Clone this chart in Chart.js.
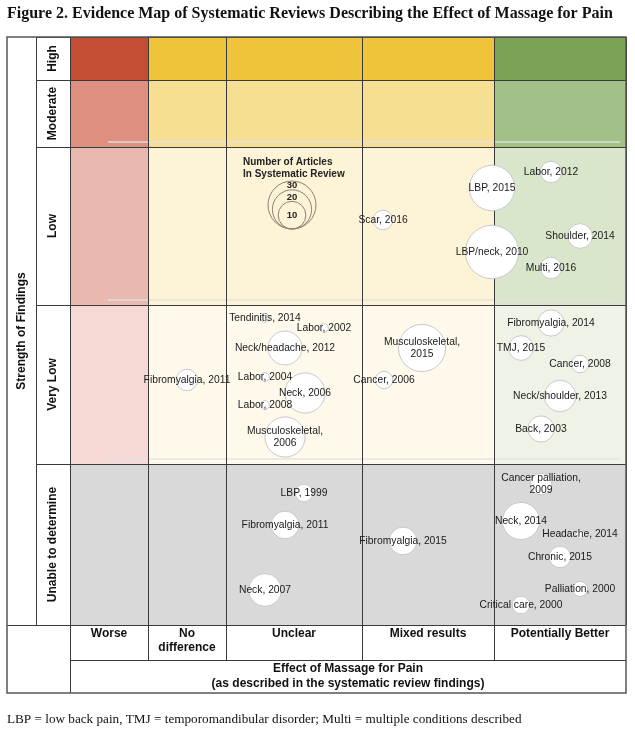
<!DOCTYPE html>
<html>
<head>
<meta charset="utf-8">
<title>Evidence Map of Systematic Reviews - Massage for Pain</title>
<script src="https://cdn.jsdelivr.net/npm/chart.js@4.4.1/dist/chart.umd.min.js"></script>
<style>
    html, body { margin: 0; padding: 0; background: #ffffff; }
    #map { display: block; }
</style>
</head>
<body>
<canvas id="map" width="635" height="740"></canvas>
<script>
// Columns: effect of massage, rows: strength of findings
const columns = ['Worse', 'No\ndifference', 'Unclear', 'Mixed results', 'Potentially Better'];
const columnEdges = [0, 78, 156, 292, 424, 556];
const strengths = ['High', 'Moderate', 'Low', 'Very Low', 'Unable to determine'];
const strengthEdges = [0, 43, 110, 268, 427, 588];

// One entry per systematic review
const reviewLabels = [
    'LBP, 2015', 'LBP/neck, 2010', 'Labor, 2012', 'Scar, 2016', 'Shoulder, 2014', 'Multi, 2016',
    'Tendinitis, 2014', 'Labor, 2002', 'Neck/headache, 2012', 'Labor, 2004', 'Neck, 2006', 'Labor, 2008',
    'Musculoskeletal,\n2006', 'Fibromyalgia, 2011', 'Musculoskeletal,\n2015', 'Cancer, 2006',
    'Fibromyalgia, 2014', 'TMJ, 2015', 'Cancer, 2008', 'Neck/shoulder, 2013', 'Back, 2003',
    'LBP, 1999', 'Fibromyalgia, 2011', 'Neck, 2007', 'Fibromyalgia, 2015', 'Cancer palliation,\n2009',
    'Neck, 2014', 'Headache, 2014', 'Chronic, 2015', 'Palliation, 2000', 'Critical care, 2000'
];
const reviewX = [
    422, 422, 481, 313, 510, 481,
    195, 254, 215, 195, 235, 195,
    215, 117, 352, 314,
    481, 451, 510, 490, 471,
    234, 215, 195, 333, 471,
    451, 510, 490, 510, 451
];
const reviewY = [
    151, 215, 135, 183, 199, 231,
    281, 291, 311, 340, 356, 368,
    400, 343, 311, 343,
    286, 311, 327, 359, 392,
    456, 488, 553, 504, 447,
    484, 497, 520, 552, 568
];
const reviewArticles = [
    27, 37, 6, 5, 8, 6,
    1, 1, 15, 1, 21, 1,
    21, 6, 29, 4,
    9, 8, 4, 13, 9,
    4, 10, 14, 10, 6,
    18, 1, 6, 3, 4
];
const legendArticles = [30, 20, 10];

// Cell fills by row (strength) and column (effect)
const cellColors = [
    ['#C24E34', '#EFC43B', '#EFC43B', '#EFC43B', '#7AA355'],
    ['#DE8F7F', '#F6DF93', '#F6DF93', '#F6DF93', '#A2C186'],
    ['#E9B8AF', '#FDF3D6', '#FDF3D6', '#FDF3D6', '#D9E6CC'],
    ['#F6D9D4', '#FEF9EA', '#FEF9EA', '#FEF9EA', '#EEF3E6'],
    ['#D9D9D9', '#D9D9D9', '#D9D9D9', '#D9D9D9', '#D9D9D9']
];

const SANS = '"Liberation Sans", Arial, sans-serif';
const SERIF = '"Liberation Serif", "Times New Roman", serif';

// bubble area proportional to number of articles
function radiusFor(n) {
    return 4.38 * Math.sqrt(n);
}

const points = reviewLabels.map((label, i) => ({
    x: reviewX[i],
    y: reviewY[i],
    r: radiusFor(reviewArticles[i]),
    label: label
}));

function drawLines(ctx, text, x, y, lineHeight) {
    const lines = text.split('\n');
    const start = y - (lines.length - 1) * lineHeight / 2;
    lines.forEach((line, i) => ctx.fillText(line, x, start + i * lineHeight));
}

// Background cells, grid and frame
const gridPlugin = {
    id: 'evidenceGrid',
    beforeDatasetsDraw(chart) {
        const { ctx, chartArea, scales } = chart;
        const xs = columnEdges.map(v => scales.x.getPixelForValue(v));
        const ys = strengthEdges.map(v => scales.y.getPixelForValue(v));
        ctx.save();

        for (let r = 0; r < strengths.length; r++) {
            for (let c = 0; c < columns.length; c++) {
                ctx.fillStyle = cellColors[r][c];
                ctx.fillRect(xs[c], ys[r], xs[c + 1] - xs[c], ys[r + 1] - ys[r]);
            }
        }

        // faint scan lines near the row bottoms
        ctx.strokeStyle = 'rgba(225, 225, 225, 0.9)';
        ctx.lineWidth = 1.5;
        [1, 2, 3].forEach(r => {
            const y = ys[r + 1] - 5;
            ctx.beginPath();
            ctx.moveTo(108, y);
            ctx.lineTo(620, y);
            ctx.stroke();
        });

        ctx.strokeStyle = '#3a3a3a';
        ctx.lineWidth = 1;
        xs.forEach(x => {
            ctx.beginPath();
            ctx.moveTo(Math.round(x) + 0.5, chartArea.top);
            ctx.lineTo(Math.round(x) + 0.5, chartArea.bottom);
            ctx.stroke();
        });
        ys.forEach(y => {
            ctx.beginPath();
            ctx.moveTo(36, Math.round(y) + 0.5);
            ctx.lineTo(chartArea.right, Math.round(y) + 0.5);
            ctx.stroke();
        });
        ctx.restore();
    },
    afterDraw(chart) {
        const { ctx, chartArea, scales } = chart;
        const xs = columnEdges.map(v => scales.x.getPixelForValue(v));
        const ys = strengthEdges.map(v => scales.y.getPixelForValue(v));
        const left = 7, divider = 36;
        const rowBottom = chartArea.bottom + 35;
        const tableBottom = chartArea.bottom + 68;
        ctx.save();

        // frame lines outside the plot
        ctx.strokeStyle = '#3a3a3a';
        ctx.lineWidth = 1;
        const line = (x1, y1, x2, y2) => {
            ctx.beginPath();
            ctx.moveTo(x1, y1);
            ctx.lineTo(x2, y2);
            ctx.stroke();
        };
        line(divider + 0.5, chartArea.top, divider + 0.5, chartArea.bottom);
        line(left, Math.round(chartArea.bottom) + 0.5, chartArea.right, Math.round(chartArea.bottom) + 0.5);
        line(chartArea.left, rowBottom + 0.5, chartArea.right, rowBottom + 0.5);
        line(Math.round(chartArea.left) + 0.5, chartArea.bottom, Math.round(chartArea.left) + 0.5, tableBottom);
        xs.slice(1, -1).forEach(x => line(Math.round(x) + 0.5, chartArea.bottom, Math.round(x) + 0.5, rowBottom));

        ctx.strokeStyle = '#555555';
        ctx.lineWidth = 1.5;
        ctx.strokeRect(left, chartArea.top, chartArea.right - left, tableBottom - chartArea.top);

        // row labels
        ctx.fillStyle = '#111111';
        ctx.font = 'bold 12px ' + SANS;
        ctx.textAlign = 'center';
        ctx.textBaseline = 'middle';
        strengths.forEach((s, r) => {
            ctx.save();
            ctx.translate(53, (ys[r] + ys[r + 1]) / 2);
            ctx.rotate(-Math.PI / 2);
            ctx.fillText(s, 0, 0);
            ctx.restore();
        });
        ctx.save();
        ctx.translate(21.5, (chartArea.top + chartArea.bottom) / 2);
        ctx.rotate(-Math.PI / 2);
        ctx.fillText('Strength of Findings', 0, 0);
        ctx.restore();

        // column labels
        columns.forEach((c, i) => {
            const lines = c.split('\n');
            lines.forEach((l, k) => ctx.fillText(l, (xs[i] + xs[i + 1]) / 2, chartArea.bottom + 9 + k * 14));
        });
        const mid = (chartArea.left + chartArea.right) / 2;
        ctx.fillText('Effect of Massage for Pain', mid, rowBottom + 9);
        ctx.fillText('(as described in the systematic review findings)', mid, rowBottom + 24);

        // title and footnote
        ctx.textAlign = 'left';
        ctx.font = 'bold 16px ' + SERIF;
        ctx.fillText('Figure 2. Evidence Map of Systematic Reviews Describing the Effect of Massage for Pain', 7, 14);
        ctx.font = '13.2px ' + SERIF;
        ctx.fillText('LBP = low back pain, TMJ = temporomandibular disorder; Multi = multiple conditions described', 7, 720);
        ctx.restore();
    }
};

// Review names on the bubbles + size legend
const labelPlugin = {
    id: 'reviewLabels',
    afterDatasetsDraw(chart, args, opts) {
        const { ctx, scales } = chart;
        const meta = chart.getDatasetMeta(0);
        ctx.save();
        ctx.fillStyle = '#1a1a1a';
        ctx.font = '10.3px ' + SANS;
        ctx.textAlign = 'center';
        ctx.textBaseline = 'middle';
        meta.data.forEach((el, i) => {
            drawLines(ctx, points[i].label, el.x, el.y, 11.5);
        });

        // size legend: nested circles sharing a bottom point
        const cx = scales.x.getPixelForValue(opts.anchor.x);
        const bottom = scales.y.getPixelForValue(opts.anchor.y);
        ctx.strokeStyle = '#8a8273';
        ctx.lineWidth = 1;
        legendArticles.forEach(n => {
            const r = radiusFor(n);
            ctx.beginPath();
            ctx.arc(cx, bottom - r, r, 0, Math.PI * 2);
            ctx.stroke();
        });
        ctx.fillStyle = '#222222';
        ctx.font = 'bold 9.5px ' + SANS;
        const shift = [0.8, 0.62, 0];
        legendArticles.forEach((n, i) => {
            const r = radiusFor(n);
            ctx.fillText(String(n), cx, bottom - r - r * shift[i]);
        });
        ctx.textAlign = 'left';
        ctx.font = 'bold 10px ' + SANS;
        ctx.fillText('Number of Articles', cx - 49, bottom - 67);
        ctx.fillText('In Systematic Review', cx - 49, bottom - 55);
        ctx.restore();
    }
};

new Chart(document.getElementById('map'), {
    type: 'bubble',
    data: {
        datasets: [{
            label: 'Systematic reviews',
            data: points,
            backgroundColor: '#ffffff',
            borderColor: '#c9c9c9',
            borderWidth: 1,
            hoverRadius: 0
        }]
    },
    options: {
        responsive: false,
        animation: false,
        layout: { autoPadding: false, padding: { left: 70, right: 9, top: 37, bottom: 115 } },
        scales: {
            x: { type: 'linear', min: 0, max: 556, display: false },
            y: { type: 'linear', min: 0, max: 588, reverse: true, display: false }
        },
        plugins: {
            legend: { display: false },
            tooltip: { enabled: false },
            reviewLabels: { anchor: { x: 222, y: 192 } }
        }
    },
    plugins: [gridPlugin, labelPlugin]
});
</script>
</body>
</html>
